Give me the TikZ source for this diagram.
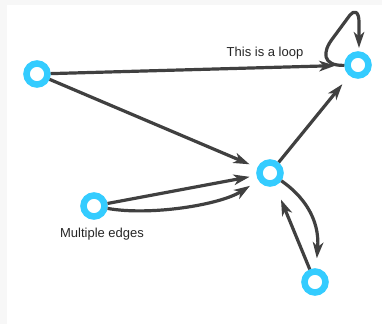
\documentclass[tikz,border=0pt]{standalone}
\usepackage{fontspec}
\setmainfont{Liberation Sans}
\usetikzlibrary{arrows.meta}
\definecolor{vcyan}{RGB}{52,204,255}
\definecolor{edgegray}{RGB}{64,64,64}
\definecolor{pagegray}{RGB}{247,247,247}
\tikzset{
  vertex/.style={circle, draw=vcyan, fill=white, line width=6.5pt, inner sep=0pt, minimum size=21pt},
  link/.style={draw=edgegray, line width=3.2pt, line join=round, -{Stealth[length=16pt, width=10.5pt, inset=4.5pt]}},
  caption/.style={font=\fontsize{13}{15}\selectfont, text=black!85, anchor=base, inner sep=0pt}
}
\begin{document}
\begin{tikzpicture}[x=1pt, y=-1pt]
  % page and canvas
  \fill[pagegray] (0,0) rectangle (382,324);
  \fill[white] (7,5) rectangle (382,324);
  \useasboundingbox (0,0) rectangle (382,324);

  % vertices
  \node[vertex] (A) at (37,74) {};
  \node[vertex] (B) at (358,65) {};
  \node[vertex] (C) at (270,173) {};
  \node[vertex] (D) at (94,206) {};
  \node[vertex] (E) at (315,282) {};

  % edges
  \draw[link, shorten >=9pt] (A) -- (B);
  \draw[link, shorten >=8.5pt] (A) -- (C);
  \draw[link, shorten >=7pt] (D) -- (C);
  \draw[link, shorten >=10pt] (D) .. controls (150,216) and (220,205) .. (C);
  \draw[link, shorten >=11pt] (C) -- (B);
  \draw[link, shorten >=10pt] (C) .. controls (302,195) and (320,218) .. (E);
  \draw[link, shorten >=15pt] (E) -- (C);
  % self loop on B, entering from above
  \coordinate (loopleft) at (333,38);
  \coordinate (looptop) at (350,15);
  \coordinate (loopdown) at (359,22);
  \coordinate (loopend) at (359,48);
  \draw[link] (B) .. controls (322,66) and (322,52) .. (loopleft)
        -- (looptop) .. controls (354,10) and (359,11) .. (loopdown) -- (loopend);

  % labels
  \node[caption] (looplabel) at (265,56.5) {This is a loop};
  \node[caption] (multilabel) at (102,237) {Multiple edges};
\end{tikzpicture}
\end{document}
